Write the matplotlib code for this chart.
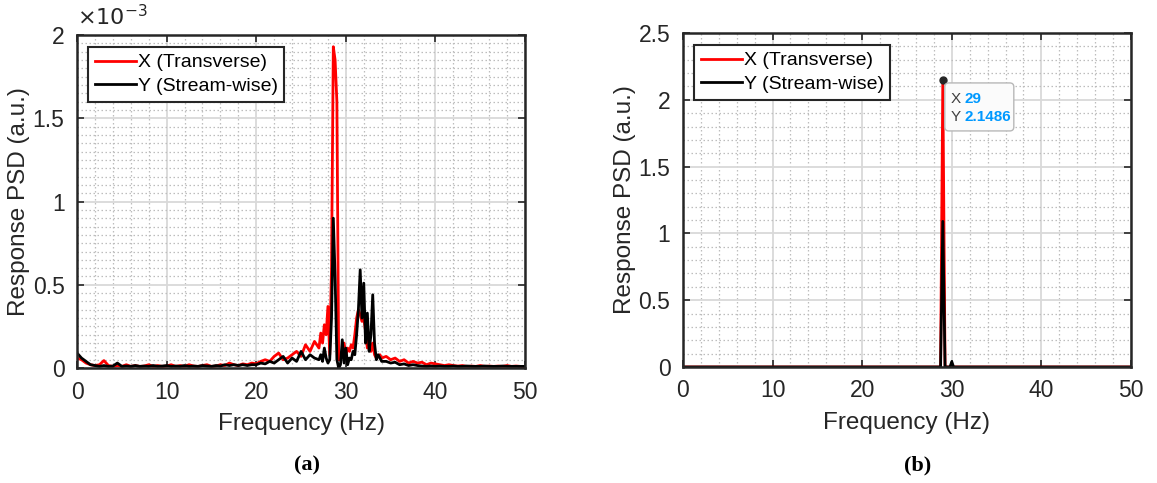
import matplotlib.pyplot as plt
import matplotlib.transforms as mtransforms
from matplotlib.patches import FancyBboxPatch
from matplotlib.ticker import MultipleLocator, FuncFormatter

plt.rcParams['font.family'] = ['Liberation Sans', 'DejaVu Sans']

# ---- panel (a): response PSD, values in units of 1e-3 ----
freq_a = [0.0, 0.5, 1.0, 1.5, 2.0, 2.5, 3.0, 3.5, 4.0, 4.5, 5.0, 5.5, 6.0, 6.5, 7.0, 7.5,
          8.0, 8.5, 9.0, 9.5, 10.0, 10.5, 11.0, 11.5, 12.0, 12.5, 13.0, 13.5, 14.0, 14.5,
          15.0, 15.5, 16.0, 16.5, 17.0, 17.5, 18.0, 18.5, 19.0, 19.5, 20.0, 20.5, 21.0,
          21.5, 22.0, 22.5, 23.0, 23.5, 24.0, 24.5, 25.0, 25.5, 26.0, 26.5,
          27.0, 27.2, 27.4, 27.6, 27.8, 28.0, 28.2, 28.4, 28.6, 28.8, 29.0, 29.2, 29.4,
          29.6, 29.8, 30.0, 30.2, 30.4, 30.6, 30.8, 31.0, 31.2, 31.4, 31.6, 31.8, 32.0,
          32.2, 32.4, 32.6, 32.8, 33.0, 33.2, 33.4, 33.6, 33.8, 34.0,
          34.5, 35.0, 35.5, 36.0, 36.5, 37.0, 37.5, 38.0, 38.5, 39.0, 39.5, 40.0, 40.5,
          41.0, 41.5, 42.0, 42.5, 43.0, 43.5, 44.0, 44.5, 45.0, 45.5, 46.0, 46.5, 47.0,
          47.5, 48.0, 48.5, 49.0, 49.5, 50.0]

psd_x_a = [0.06, 0.05, 0.03, 0.02, 0.015, 0.02, 0.045, 0.015, 0.01, 0.015, 0.01, 0.02,
           0.01, 0.015, 0.01, 0.012, 0.02, 0.01, 0.015, 0.01, 0.012, 0.02, 0.01, 0.015,
           0.01, 0.02, 0.012, 0.01, 0.015, 0.02, 0.01, 0.012, 0.02, 0.015, 0.03, 0.02,
           0.015, 0.025, 0.02, 0.03, 0.025, 0.04, 0.05, 0.04, 0.07, 0.09, 0.05, 0.06,
           0.08, 0.1, 0.07, 0.14, 0.1, 0.16,
           0.12, 0.21, 0.15, 0.26, 0.2, 0.37, 0.08, 0.6, 1.93, 1.85, 1.6, 0.05, 0.05,
           0.1, 0.15, 0.08, 0.12, 0.1, 0.14, 0.12, 0.2, 0.3, 0.35, 0.32, 0.28, 0.3,
           0.22, 0.12, 0.18, 0.1, 0.15, 0.08, 0.06, 0.07, 0.08, 0.06,
           0.07, 0.05, 0.06, 0.04, 0.05, 0.03, 0.04, 0.03, 0.035, 0.02, 0.03, 0.025,
           0.02, 0.015, 0.02, 0.015, 0.012, 0.015, 0.01, 0.012, 0.01, 0.015, 0.01,
           0.012, 0.01, 0.012, 0.01, 0.015, 0.01, 0.012, 0.01, 0.01]

psd_y_a = [0.09, 0.06, 0.04, 0.02, 0.015, 0.01, 0.015, 0.01, 0.012, 0.03, 0.01, 0.012,
           0.01, 0.015, 0.01, 0.012, 0.01, 0.015, 0.01, 0.012, 0.015, 0.01, 0.012, 0.01,
           0.015, 0.01, 0.012, 0.01, 0.015, 0.012, 0.01, 0.015, 0.012, 0.02, 0.015, 0.02,
           0.015, 0.02, 0.015, 0.02, 0.02, 0.03, 0.025, 0.04, 0.03, 0.05, 0.07, 0.03,
           0.06, 0.04, 0.1, 0.05, 0.08, 0.06,
           0.05, 0.08, 0.04, 0.12, 0.06, 0.03, 0.05, 0.3, 0.9, 0.55, 0.05, 0.0, 0.02,
           0.17, 0.03, 0.12, 0.02, 0.06, 0.05, 0.1, 0.08, 0.2, 0.35, 0.59, 0.3, 0.51,
           0.15, 0.33, 0.1, 0.2, 0.44, 0.15, 0.05, 0.08, 0.06, 0.04,
           0.04, 0.03, 0.035, 0.02, 0.025, 0.015, 0.02, 0.015, 0.012, 0.01, 0.012, 0.01,
           0.012, 0.01, 0.01, 0.012, 0.01, 0.01, 0.012, 0.01, 0.01, 0.01, 0.012, 0.01,
           0.01, 0.01, 0.012, 0.01, 0.01, 0.01, 0.01, 0.01]

# ---- panel (b) ----
freq_b = [0.0, 28.75, 29.0, 29.25, 29.8, 30.0, 30.2, 50.0]
psd_x_b = [0.0, 0.0, 2.1486, 0.0, 0.0, 0.0, 0.0, 0.0]
psd_y_b = [0.0, 0.0, 1.09, 0.0, 0.0, 0.04, 0.0, 0.0]

tip_x, tip_y = 29, 2.1486

RED = '#ff0000'
BLACK = '#000000'
AX_COLOR = '#262626'


def style_axes(ax, ymax, ymajor, yminor):
    ax.set_xlim(0, 50)
    ax.set_ylim(0, ymax)
    ax.xaxis.set_major_locator(MultipleLocator(10))
    ax.xaxis.set_minor_locator(MultipleLocator(2))
    ax.yaxis.set_major_locator(MultipleLocator(ymajor))
    ax.yaxis.set_minor_locator(MultipleLocator(yminor))
    ax.xaxis.set_major_formatter(FuncFormatter(lambda v, p: f'{v:g}'))
    ax.grid(which='major', color='#d9d9d9', lw=1.3, ls='-')
    ax.grid(which='minor', color='#bdbdbd', lw=0.9, ls=(0, (1.2, 2.0)))
    ax.set_axisbelow(True)
    ax.tick_params(which='major', direction='in', length=5, width=1.2,
                   top=True, right=True, labelsize=16.5, colors=AX_COLOR, pad=9)
    ax.tick_params(which='minor', length=0)
    for s in ax.spines.values():
        s.set_color(AX_COLOR)
        s.set_linewidth(1.8)
    ax.set_xlabel('Frequency (Hz)', fontsize=17.5, color=AX_COLOR, labelpad=7)
    ax.set_ylabel('Response PSD (a.u.)', fontsize=17.5, color=AX_COLOR, labelpad=2)
    leg = ax.legend(loc='upper left', bbox_to_anchor=(0.0246, 0.964), borderaxespad=0,
                    fontsize=14, frameon=True, fancybox=False, handlelength=2.1,
                    handletextpad=0.1, borderpad=0.35, labelspacing=0.3)
    leg.get_frame().set_edgecolor(AX_COLOR)
    leg.get_frame().set_linewidth(1.5)
    leg.get_frame().set_alpha(1)


fig = plt.figure(figsize=(11.57, 4.83), dpi=100)
ax1 = fig.add_axes([0.0666, 0.238, 0.3872, 0.6894])
ax2 = fig.add_axes([0.5903, 0.2402, 0.3872, 0.6915])

scale = 1e-3
ax1.plot(freq_a, [v * scale for v in psd_x_a], color=RED, lw=2, label='X (Transverse)')
ax1.plot(freq_a, [v * scale for v in psd_y_a], color=BLACK, lw=2, label='Y (Stream-wise)')
style_axes(ax1, 2e-3, 0.5e-3, 0.05e-3)
ax1.yaxis.set_major_formatter(FuncFormatter(lambda v, p: f'{round(v / scale, 6):g}'))
ax1.text(0.0, 1.015, r'$\times10^{-3}$', transform=ax1.transAxes, ha='left', va='bottom',
         fontsize=16, color=AX_COLOR)

ax2.plot(freq_b, psd_x_b, color=RED, lw=2, label='X (Transverse)')
ax2.plot(freq_b, psd_y_b, color=BLACK, lw=2, label='Y (Stream-wise)')
style_axes(ax2, 2.5, 0.5, 0.1)
ax2.yaxis.set_major_formatter(FuncFormatter(lambda v, p: f'{round(v, 6):g}'))

# data tip: box and text placed in inches relative to the tip point
ax2.plot([tip_x], [tip_y], 'o', ms=5, color='#262626', zorder=5)
tip_trans = fig.dpi_scale_trans + mtransforms.ScaledTranslation(tip_x, tip_y, ax2.transData)
box = FancyBboxPatch((0.02, -0.51), 0.69, 0.48,
                     boxstyle='round,pad=0.0,rounding_size=0.04',
                     transform=tip_trans, fc='#fbfbfb', ec='#b8b8b8', lw=1,
                     zorder=6, clip_on=False)
ax2.add_patch(box)
ax2.text(0.08, -0.19, 'X', transform=tip_trans, ha='left', va='center', fontsize=11,
         color='#404040', zorder=7)
ax2.text(0.22, -0.19, f'{tip_x}', transform=tip_trans, ha='left', va='center',
         fontsize=11, color='#0099ff', fontweight='bold', zorder=7)
ax2.text(0.08, -0.375, 'Y', transform=tip_trans, ha='left', va='center', fontsize=11,
         color='#404040', zorder=7)
ax2.text(0.22, -0.375, f'{tip_y}', transform=tip_trans, ha='left', va='center',
         fontsize=11, color='#0099ff', fontweight='bold', zorder=7)

fig.text(307 / 1157, 1 - 465 / 483, '(a)', ha='center', va='center', fontsize=16,
         fontweight='bold', family='Liberation Serif')
fig.text(918 / 1157, 1 - 465 / 483, '(b)', ha='center', va='center', fontsize=16,
         fontweight='bold', family='Liberation Serif')

fig.savefig('out.png', dpi=100)
